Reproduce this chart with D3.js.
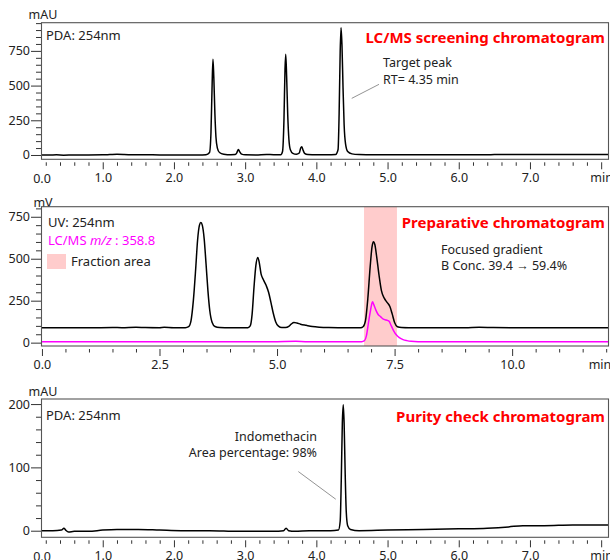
<!DOCTYPE html>
<html><head><meta charset="utf-8">
<script src="https://cdn.jsdelivr.net/npm/d3@7"></script>
<style>
html,body{margin:0;padding:0;background:#fff;}
svg{display:block;font-family:"Noto Sans",sans-serif;}
</style></head><body>
<script>
// ---------- DATA ----------
// Panel 1: LC/MS screening chromatogram (time min, mAU)
const screeningTrace = [[0.13,0],[0.25,0],[0.35,1],[0.45,-1],[0.6,0],[0.8,0],[1.0,1],[1.1,3],[1.2,5],[1.3,4],[1.45,1],[1.6,2],[1.8,0],[2.0,0],[2.2,0],[2.35,0],[2.45,2],[2.5,18],[2.52,160],[2.535,480],[2.548,690],[2.56,560],[2.575,300],[2.59,130],[2.61,50],[2.64,18],[2.7,6],[2.8,2],[2.86,3],[2.885,18],[2.905,40],[2.925,22],[2.95,6],[3.0,1],[3.15,0],[3.3,4],[3.4,2],[3.5,2],[3.525,25],[3.545,250],[3.56,620],[3.57,725],[3.583,560],[3.598,290],[3.615,110],[3.635,38],[3.67,12],[3.72,5],[3.76,14],[3.78,50],[3.795,60],[3.81,40],[3.835,12],[3.88,3],[4.0,1],[4.15,1],[4.27,4],[4.305,40],[4.32,300],[4.335,750],[4.347,917],[4.36,790],[4.375,480],[4.39,220],[4.41,80],[4.44,25],[4.5,8],[4.6,3],[4.8,1],[5.0,2],[5.5,1],[6.0,1],[6.4,1],[6.5,3],[7.0,3],[7.5,3],[8.11,3]];
// Panel 2: preparative chromatogram (time min, mV)
const prepUV = [[-0.02,88],[0.5,88],[1.0,88],[1.5,90],[1.7,89],[2.0,92],[2.2,90],[2.5,89],[2.6,91],[2.8,89],[3.05,89],[3.12,95],[3.17,130],[3.22,250],[3.27,440],[3.31,610],[3.35,700],[3.38,716],[3.41,700],[3.45,620],[3.49,470],[3.53,310],[3.57,190],[3.62,120],[3.68,96],[3.78,90],[4.0,88],[4.2,88],[4.38,89],[4.43,100],[4.47,170],[4.51,330],[4.55,460],[4.59,508],[4.62,480],[4.66,410],[4.71,375],[4.77,340],[4.82,300],[4.87,240],[4.92,175],[4.97,125],[5.03,98],[5.1,90],[5.18,90],[5.25,97],[5.3,110],[5.36,120],[5.42,117],[5.5,110],[5.62,103],[5.75,96],[5.9,92],[6.1,90],[6.5,89],[6.78,89],[6.83,95],[6.88,130],[6.93,260],[6.98,450],[7.02,570],[7.05,601],[7.08,585],[7.12,510],[7.17,400],[7.22,310],[7.28,265],[7.34,240],[7.40,215],[7.45,170],[7.5,120],[7.56,95],[7.65,90],[7.8,89],[8.5,89],[9.0,89],[9.3,92],[9.6,90],[10,89],[11,88],[12.06,88]];
const prepMS = [[-0.02,5],[0.3,6],[0.6,5],[1.0,5],[1.4,6],[1.8,5],[2.2,6],[2.6,5],[3.0,5],[3.4,6],[3.8,5],[4.2,6],[4.6,5],[5.0,6],[5.4,8],[5.6,6],[6.0,5],[6.4,6],[6.8,6],[6.86,12],[6.9,40],[6.94,110],[6.98,180],[7.01,225],[7.03,244],[7.06,225],[7.1,195],[7.15,168],[7.2,155],[7.26,140],[7.32,135],[7.38,128],[7.43,100],[7.48,70],[7.54,45],[7.6,30],[7.68,18],[7.76,12],[7.85,8],[8.0,6],[8.5,6],[9.0,5],[9.5,6],[10,6],[10.5,5],[11,6],[12.06,5]];
const fractionArea = [6.85, 7.55];
// Panel 3: purity check chromatogram (time min, mAU)
const purityTrace = [[0.133,0],[0.3,0],[0.42,1],[0.455,4],[0.48,1],[0.52,-2],[0.6,-1],[0.8,-1],[1.0,1],[1.2,2],[1.5,2],[1.8,1],[2.1,0],[2.5,0],[2.9,-1],[3.1,-1],[3.4,-1],[3.54,0],[3.575,4],[3.61,0],[3.7,-1],[3.9,0],[4.2,0],[4.31,1],[4.335,15],[4.35,80],[4.365,170],[4.378,199],[4.39,170],[4.405,90],[4.42,30],[4.44,8],[4.48,2],[4.6,0],[5.0,1],[5.5,2],[6.0,3],[6.4,4],[6.7,6],[6.9,8],[7.2,8],[7.6,9],[8.11,9]];
// Tick values
const screeningYTicks = [0,250,500,750];
const prepYTicks = [0,250,500,750];
const purityYTicks = [0,100,200];
const minuteXTicks = [1,2,3,4,5,6,7,8];
const prepXTicks = [0,2.5,5,7.5,10];
// Annotation anchors (data coordinates)
const targetLeader = [[4.88,509],[4.497,408]];
const purityLeader = [[3.747,93.4],[4.273,49.7]];

// ---------- DRAW ----------
const W = 610, H = 560, L = 41, R = 609;
const svg = d3.select("body").append("svg").attr("width", W).attr("height", H);
const TICKFONT = "12.5px", TXT = "#222", TITLE = "15px";

function makePanel(id, top, bottom, xDom, yDom) {
  const x = d3.scaleLinear().domain(xDom).range([L, R]);
  const y = d3.scaleLinear().domain(yDom).range([bottom, top]);
  const g = svg.append("g");
  svg.append("clipPath").attr("id", "clip" + id)
    .append("rect").attr("x", L).attr("y", top).attr("width", R - L).attr("height", bottom - top);
  const plot = g.append("g").attr("clip-path", `url(#clip${id})`);
  return {x, y, g, plot, top, bottom};
}

function yAxis(p, major, minor, unit, unitY) {
  const a1 = p.g.append("g").attr("transform", `translate(${L},0)`)
    .call(d3.axisLeft(p.y).tickValues(minor).tickSize(5).tickFormat(""));
  a1.select(".domain").remove();
  const a2 = p.g.append("g").attr("transform", `translate(${L},0)`)
    .call(d3.axisLeft(p.y).tickValues(major).tickSize(10).tickPadding(1));
  a2.select(".domain").remove();
  [a1, a2].forEach(a => a.selectAll("line").attr("stroke", "#333"));
  a2.selectAll("text").style("font-size", TICKFONT).style("font-family", "Noto Sans").attr("fill", TXT);
  p.g.append("text").attr("x", 43).attr("y", unitY).attr("text-anchor", "middle")
    .style("font-size", TICKFONT).attr("fill", TXT).text(unit);
}

function xAxis(p, major, minor, fmt) {
  const yy = p.bottom + 3;
  const a1 = p.g.append("g").attr("transform", `translate(0,${yy})`)
    .call(d3.axisBottom(p.x).tickValues(minor).tickSize(3.5).tickFormat(""));
  a1.select(".domain").remove();
  const a2 = p.g.append("g").attr("transform", `translate(0,${yy})`)
    .call(d3.axisBottom(p.x).tickValues(major).tickSize(7).tickPadding(4).tickFormat(fmt));
  a2.select(".domain").remove();
  [a1, a2].forEach(a => a.selectAll("line").attr("stroke", "#333"));
  a2.selectAll("text").style("font-size", TICKFONT).style("font-family", "Noto Sans").attr("fill", TXT);
  return yy;
}

function box(p) {
  p.g.append("rect").attr("x", L + 0.5).attr("y", p.top).attr("width", R - L - 1).attr("height", p.bottom - p.top)
    .attr("fill", "none").attr("stroke", "#555").attr("stroke-width", 1.1);
}

function trace(p, data, color, w) {
  p.plot.append("path").datum(data)
    .attr("fill", "none").attr("stroke", color).attr("stroke-width", w).attr("stroke-linejoin", "round")
    .attr("d", d3.line().x(d => p.x(d[0])).y(d => p.y(d[1])).curve(d3.curveMonotoneX));
}

function label(p, x, y, txt, opts = {}) {
  return p.g.append("text").attr("x", x).attr("y", y)
    .attr("text-anchor", opts.anchor || "start")
    .style("font-size", opts.size || "12.5px")
    .style("font-weight", opts.weight || "normal")
    .attr("fill", opts.fill || TXT).text(txt);
}

function leader(p, pts) {
  p.g.append("line").attr("x1", p.x(pts[0][0])).attr("y1", p.y(pts[0][1]))
    .attr("x2", p.x(pts[1][0])).attr("y2", p.y(pts[1][1]))
    .attr("stroke", "#777").attr("stroke-width", 0.8);
}

const minorMinutes = d3.range(1, 41).map(i => i * 0.2).filter(v => Math.abs(v - Math.round(v)) > 1e-6);
const minuteFmt = d => d === 8 ? "min" : d3.format(".1f")(d);
const labelY = yy => yy + 7 + 4 + 12.5 * 0.71 + 0.5;

// ---- Panel 1 ----
const p1 = makePanel(1, 22.7, 159.3, [0.133, 8.11], [-31, 953]);
yAxis(p1, screeningYTicks, d3.range(50, 951, 50).filter(v => v % 250 !== 0), "mAU", 19);
const p1x = xAxis(p1, minuteXTicks, minorMinutes, minuteFmt);
label(p1, L + 1, labelY(p1x), "0.0", {anchor: "middle", size: TICKFONT});
trace(p1, screeningTrace, "#000", 1.5);
box(p1);
label(p1, 46, 40, "PDA: 254nm", {size: "13px"});
label(p1, 605, 43, "LC/MS screening chromatogram", {anchor: "end", size: TITLE, weight: "bold", fill: "#ff0000"});
label(p1, 383, 67, "Target peak", {size: "12.5px"});
label(p1, 383, 84, "RT= 4.35 min", {size: "12.5px"});
leader(p1, targetLeader);

// ---- Panel 2 ----
const p2 = makePanel(2, 206.7, 346, [-0.02, 12.06], [-20, 810]);
p2.plot.append("rect").attr("x", p2.x(fractionArea[0])).attr("y", p2.top)
  .attr("width", p2.x(fractionArea[1]) - p2.x(fractionArea[0])).attr("height", p2.bottom - p2.top)
  .attr("fill", "#ffcccc");
yAxis(p2, prepYTicks, d3.range(50, 801, 50).filter(v => v % 250 !== 0), "mV", 207);
const p2x = xAxis(p2, prepXTicks, d3.range(0.5, 12.01, 0.5).filter(v => Math.abs(v / 2.5 - Math.round(v / 2.5)) > 1e-6), d3.format(".1f"));
label(p2, 600, labelY(p2x), "min", {anchor: "middle", size: TICKFONT});
trace(p2, prepUV, "#000", 1.5);
trace(p2, prepMS, "#ff00ff", 1.5);
box(p2);
label(p2, 48, 227, "UV: 254nm", {size: "13px"});
const ms = label(p2, 48, 245, "", {size: "13px", fill: "#ff00ff"});
ms.append("tspan").text("LC/MS ");
ms.append("tspan").style("font-style", "italic").text("m/z");
ms.append("tspan").text(" : 358.8");
p2.g.append("rect").attr("x", 47).attr("y", 254).attr("width", 19).attr("height", 15).attr("fill", "#ffcccc");
label(p2, 71, 265.5, "Fraction area", {size: "13px"});
label(p2, 605, 228, "Preparative chromatogram", {anchor: "end", size: TITLE, weight: "bold", fill: "#ff0000"});
label(p2, 441, 253.5, "Focused gradient", {size: "12.5px"});
label(p2, 441, 269.5, "B Conc. 39.4 \u2192 59.4%", {size: "12.5px"});

// ---- Panel 3 ----
const p3 = makePanel(3, 399, 537.3, [0.133, 8.11], [-10.4, 208]);
yAxis(p3, purityYTicks, d3.range(20, 201, 20).filter(v => v % 100 !== 0), "mAU", 396);
const p3x = xAxis(p3, minuteXTicks, minorMinutes, minuteFmt);
label(p3, L + 1, labelY(p3x), "0.0", {anchor: "middle", size: TICKFONT});
trace(p3, purityTrace, "#000", 1.5);
box(p3);
label(p3, 46, 420, "PDA: 254nm", {size: "13px"});
label(p3, 605, 422, "Purity check chromatogram", {anchor: "end", size: TITLE, weight: "bold", fill: "#ff0000"});
label(p3, 317, 440.5, "Indomethacin", {anchor: "end", size: "12.5px"});
label(p3, 317, 457, "Area percentage: 98%", {anchor: "end", size: "12.5px"});
leader(p3, purityLeader);
</script>
</body></html>
